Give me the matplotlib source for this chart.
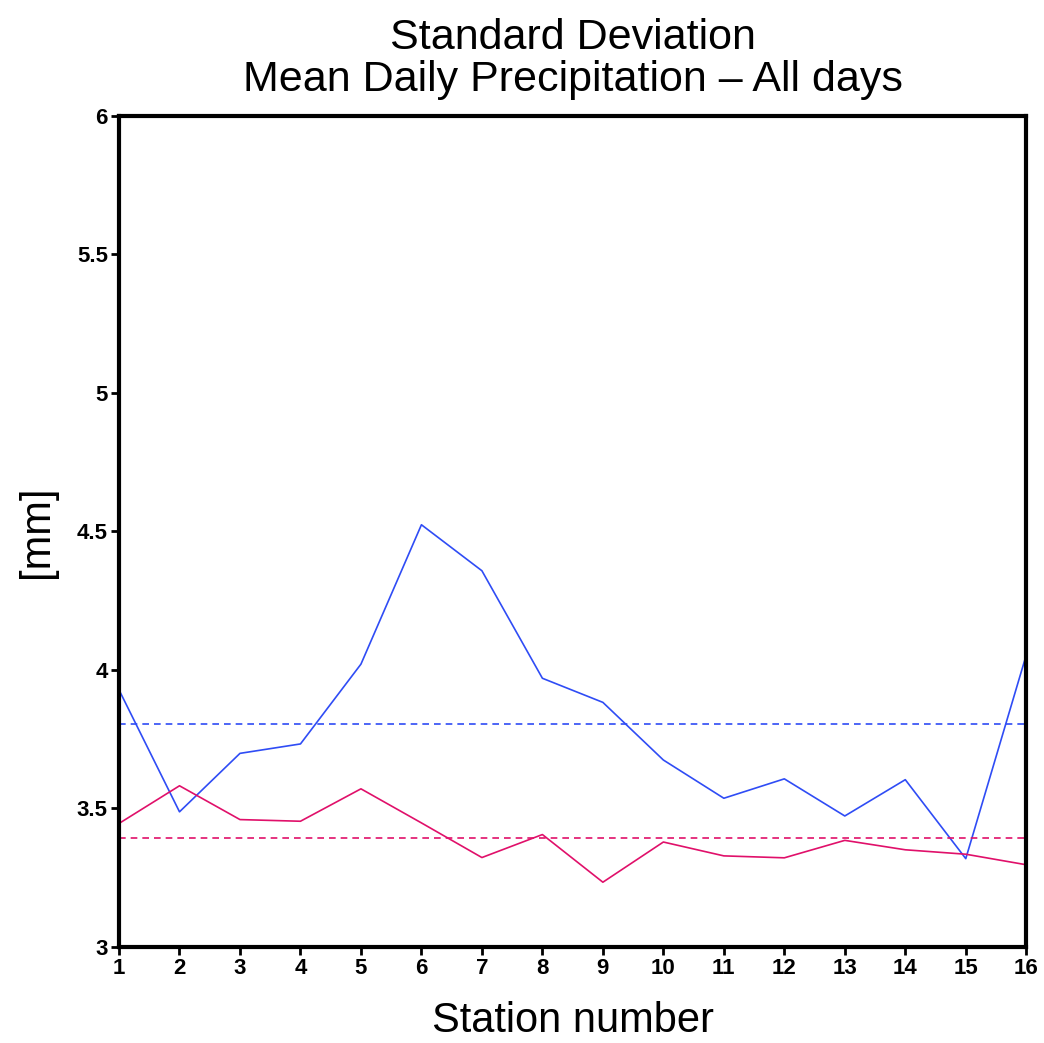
import numpy as np
import matplotlib
matplotlib.use("Agg")
import matplotlib.pyplot as plt

plt.rcParams['font.family'] = ['Liberation Sans', 'DejaVu Sans']

# station numbers and standard deviation of daily precipitation [mm]
stations = np.arange(1, 17)
sd_blue = [3.928, 3.488, 3.699, 3.733, 4.021, 4.524, 4.358, 3.970,
           3.883, 3.675, 3.537, 3.607, 3.473, 3.604, 3.319, 4.054]
sd_red = [3.446, 3.582, 3.460, 3.454, 3.571, 3.448, 3.323, 3.406,
          3.234, 3.379, 3.329, 3.322, 3.385, 3.351, 3.335, 3.297]
yticks = [3, 3.5, 4, 4.5, 5, 5.5, 6]
ytick_labels = ['3', '3.5', '4', '4.5', '5', '5.5', '6']

blue = '#2f4cf5'
red = '#e0106a'

fig = plt.figure(figsize=(10.44, 10.43), dpi=100)
ax = fig.add_axes([0.114, 0.092, 0.869, 0.797])

ax.plot(stations, sd_blue, color=blue, lw=1.2)
ax.plot(stations, sd_red, color=red, lw=1.2)
# station average as dashed reference lines
ax.axhline(np.mean(sd_blue), color=blue, lw=1.2, ls=(0, (4, 3)))
ax.axhline(np.mean(sd_red), color=red, lw=1.2, ls=(0, (4, 3)))

ax.set_xlim(1, 16)
ax.set_ylim(3, 6)
ax.set_xticks(stations)
ax.set_xticklabels([str(s) for s in stations], fontsize=16, fontweight='bold')
ax.set_yticks(yticks)
ax.set_yticklabels(ytick_labels, fontsize=16, fontweight='bold')
ax.tick_params(direction='out', length=6, width=2, pad=2)

for sp in ax.spines.values():
    sp.set_linewidth(3)

ax.set_title('Standard Deviation\nMean Daily Precipitation \u2013 All days',
             fontsize=31, linespacing=1.05, pad=18)
ax.set_xlabel('Station number', fontsize=30, labelpad=16)
ax.set_ylabel('[mm]', fontsize=30, labelpad=14)

fig.savefig('out.png', dpi=100)
